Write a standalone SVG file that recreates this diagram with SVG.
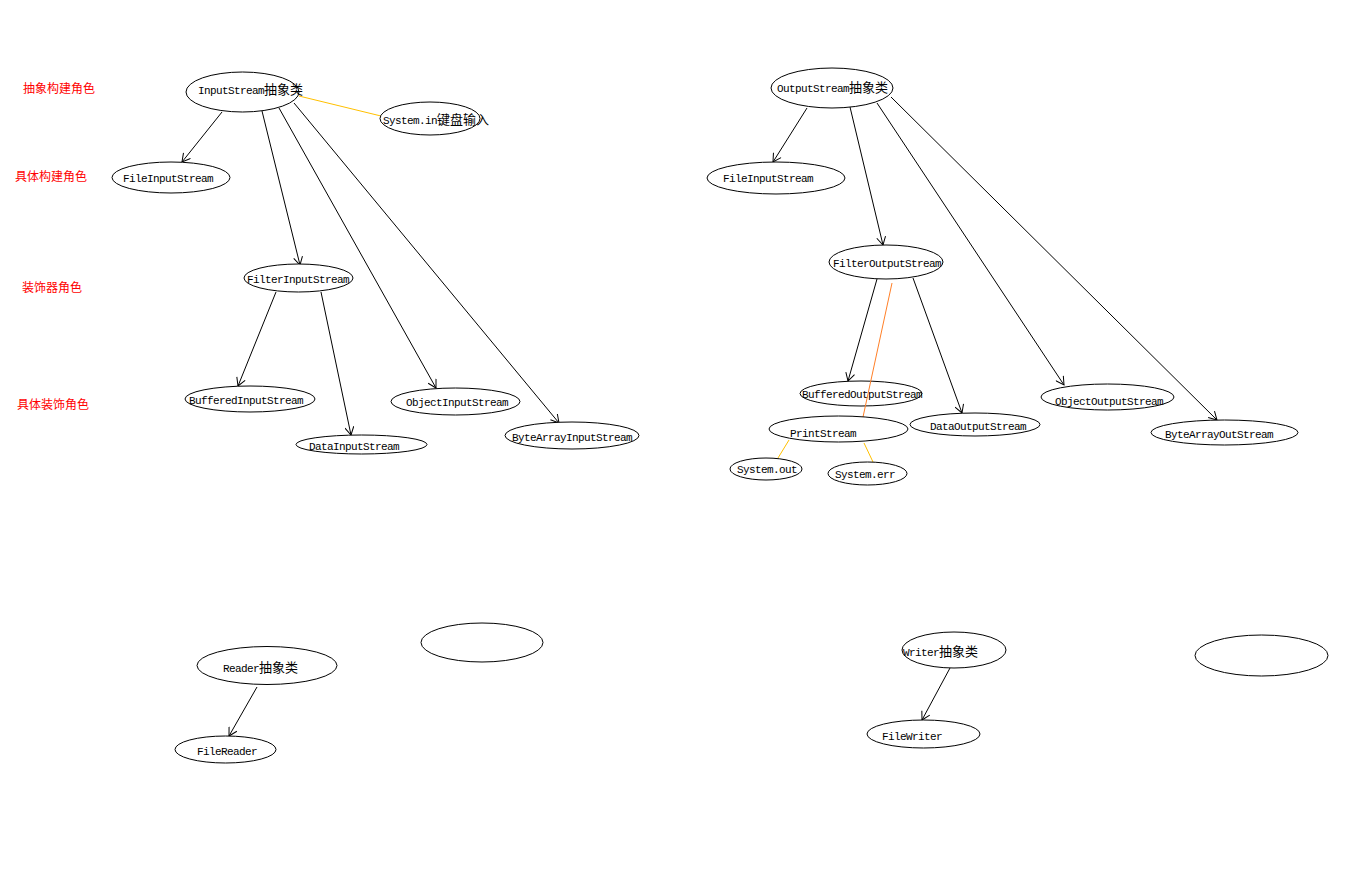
<svg xmlns="http://www.w3.org/2000/svg" width="1364" height="887" viewBox="0 0 1364 887">
<style>
.n ellipse{fill:#fff;stroke:#000;stroke-width:1}
.n text{font-family:"Liberation Mono","Noto Sans CJK SC",monospace;font-size:11px;letter-spacing:-0.6px;fill:#000}
.cj{font-family:"Noto Sans CJK SC",sans-serif;font-size:13px;letter-spacing:0}
.role{font-family:"Noto Sans CJK SC",sans-serif;font-size:12px;fill:#ff0000}
.e{stroke:#000;stroke-width:1;fill:none}
.ea{marker-end:url(#arr)}
.y{stroke:#ffc000;stroke-width:1;fill:none}
.o{stroke:#ff7f27;stroke-width:1;fill:none}
</style>
<defs>
<marker id="arr" viewBox="0 -5 10 10" refX="9" refY="0" markerWidth="10" markerHeight="10" markerUnits="userSpaceOnUse" orient="auto">
<path d="M1,-4.5 L9,0 L1,4.5" fill="none" stroke="#000" stroke-width="1"/>
</marker>
</defs>
<rect width="1364" height="887" fill="#fff"/>

<g id="roles">
<text class="role" x="23" y="93">抽象构建角色</text>
<text class="role" x="15" y="181">具体构建角色</text>
<text class="role" x="22" y="292">装饰器角色</text>
<text class="role" x="17" y="409">具体装饰角色</text>
</g>

<g id="connectors">
<line class="e ea" x1="222" y1="112" x2="182" y2="162"/>
<line class="e ea" x1="262" y1="111" x2="300" y2="265"/>
<line class="e ea" x1="279" y1="108" x2="436" y2="388"/>
<line class="e ea" x1="294" y1="103" x2="559" y2="423"/>
<line class="y" x1="299" y1="96" x2="381" y2="116"/>
<line class="e ea" x1="276" y1="292" x2="238" y2="386"/>
<line class="e ea" x1="321" y1="292" x2="351" y2="435"/>
<line class="e ea" x1="807" y1="108" x2="773" y2="162"/>
<line class="e ea" x1="850" y1="107" x2="883" y2="245"/>
<line class="e ea" x1="877" y1="103" x2="1064" y2="385"/>
<line class="e ea" x1="891" y1="97" x2="1217" y2="420"/>
<line class="e ea" x1="877" y1="279" x2="848" y2="381"/>
<line class="e ea" x1="913" y1="278" x2="962" y2="413"/>
<line class="y" x1="789" y1="440" x2="778" y2="458"/>
<line class="y" x1="864" y1="443" x2="873" y2="462"/>
<line class="e ea" x1="257" y1="687" x2="229" y2="736"/>
<line class="e ea" x1="950" y1="668" x2="922" y2="720"/>
</g>

<g id="n-inputstream" class="n"><ellipse cx="242.5" cy="92" rx="56.5" ry="20"/><text x="198" y="93.5">InputStream<tspan class="cj">抽象类</tspan></text></g>
<g id="n-systemin" class="n"><ellipse cx="430" cy="118.5" rx="50" ry="16.5"/><text x="383" y="123.5">System.in<tspan class="cj">键盘输入</tspan></text></g>
<g id="n-fileinputstream-l" class="n"><ellipse cx="171" cy="177.5" rx="59" ry="15.5"/><text x="123" y="181.5">FileInputStream</text></g>
<g id="n-filterinputstream" class="n"><ellipse cx="298.5" cy="278" rx="54.5" ry="14"/><text x="247" y="282.5">FilterInputStream</text></g>
<g id="n-bufferedinputstream" class="n"><ellipse cx="250" cy="399" rx="65" ry="13"/><text x="189" y="403.5">BufferedInputStream</text></g>
<g id="n-datainputstream" class="n"><ellipse cx="361.5" cy="444.5" rx="65.5" ry="9.5"/><text x="309" y="450">DataInputStream</text></g>
<g id="n-objectinputstream" class="n"><ellipse cx="455.5" cy="401.5" rx="64.5" ry="13.5"/><text x="406" y="405.5">ObjectInputStream</text></g>
<g id="n-bytearrayinputstream" class="n"><ellipse cx="572" cy="435.5" rx="67" ry="13.5"/><text x="512" y="440.5">ByteArrayInputStream</text></g>

<g id="n-outputstream" class="n"><ellipse cx="832" cy="88" rx="61" ry="20"/><text x="777" y="92">OutputStream<tspan class="cj">抽象类</tspan></text></g>
<g id="n-fileinputstream-r" class="n"><ellipse cx="776" cy="178" rx="69" ry="16"/><text x="723" y="181.5">FileInputStream</text></g>
<g id="n-filteroutputstream" class="n"><ellipse cx="886" cy="262" rx="57" ry="17"/><text x="833" y="266.5">FilterOutputStream</text></g>
<g id="n-bufferedoutputstream" class="n"><ellipse cx="861" cy="393.5" rx="61" ry="12.5"/><text x="802" y="397.5">BufferedOutputStream</text></g>
<g id="n-dataoutputstream" class="n"><ellipse cx="975" cy="424.5" rx="65" ry="11.5"/><text x="930" y="429.5">DataOutputStream</text></g>
<g id="n-objectoutputstream" class="n"><ellipse cx="1107.5" cy="397" rx="66.5" ry="13"/><text x="1055" y="404.5">ObjectOutputStream</text></g>
<g id="n-bytearrayoutstream" class="n"><ellipse cx="1224.5" cy="432.5" rx="73.5" ry="12.5"/><text x="1165" y="437.5">ByteArrayOutStream</text></g>

<g id="connector-orange"><line class="o" x1="892" y1="283" x2="863" y2="417"/></g>

<g id="n-printstream" class="n"><ellipse cx="838.5" cy="429" rx="69.5" ry="13" fill-opacity="0"/><text x="790" y="436.5">PrintStream</text></g>
<g id="n-systemout" class="n"><ellipse cx="766" cy="469" rx="36" ry="11"/><text x="737" y="472.5">System.out</text></g>
<g id="n-systemerr" class="n"><ellipse cx="867.5" cy="473.5" rx="39.5" ry="11.5"/><text x="835" y="477.5">System.err</text></g>

<g id="n-reader" class="n"><ellipse cx="267" cy="665.5" rx="70" ry="19"/><text x="223" y="671.5">Reader<tspan class="cj">抽象类</tspan></text></g>
<g id="n-empty-1" class="n"><ellipse cx="482" cy="642.5" rx="61" ry="19.5"/></g>
<g id="n-filereader" class="n"><ellipse cx="225.5" cy="749.5" rx="50.5" ry="13.5"/><text x="197" y="754.5">FileReader</text></g>
<g id="n-writer" class="n"><ellipse cx="954" cy="650" rx="52" ry="18"/><text x="903" y="655.5">Writer<tspan class="cj">抽象类</tspan></text></g>
<g id="n-empty-2" class="n"><ellipse cx="1261.5" cy="655.5" rx="66.5" ry="20.5"/></g>
<g id="n-filewriter" class="n"><ellipse cx="923.5" cy="734" rx="56.5" ry="14"/><text x="882" y="740">FileWriter</text></g>
</svg>
